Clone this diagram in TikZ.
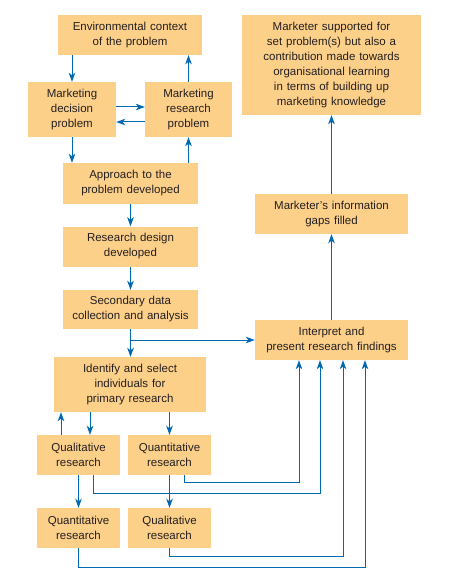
\documentclass[tikz,border=0pt]{standalone}
\usepackage{fontspec}
\setmainfont{Liberation Sans}
\usetikzlibrary{arrows.meta, positioning}
\definecolor{boxfill}{RGB}{253,208,138}
\definecolor{arrowblue}{RGB}{0,103,177}
\definecolor{textgrey}{RGB}{35,31,32}

\begin{document}
\begin{tikzpicture}[x=1pt, y=-1pt, node distance=63pt]
        \tikzstyle{block} = [rectangle, fill=boxfill, text=textgrey, inner sep=0pt,
            text centered, font=\fontsize{11.5}{15}\selectfont]
        \tikzstyle{line} = [draw=arrowblue, line width=1pt, -{Stealth[length=9pt, width=6.5pt, inset=2.5pt]}]

        \useasboundingbox (0,0) rectangle (450,580);

        % left column
        \node [block, text width=144pt, minimum height=40pt] (context) at (130,35) {Environmental context\\of the problem};
        \node [block, text width=88pt, minimum height=55pt] (decision) at (72,109.5) {Marketing\\decision\\problem};
        \node [block, text width=87pt, minimum height=55pt] (problem) at (188.5,109.5) {Marketing\\research\\problem};
        \node [block, text width=135pt, minimum height=41pt] (approach) at (130.5,183.5) {Approach to the\\problem developed};
        \node [block, text width=135pt, minimum height=40pt, below of=approach] (design) {Research design\\developed};
        \node [block, text width=135pt, minimum height=39pt, below of=design] (secondary) {Secondary data\\collection and analysis};
        \node [block, text width=152pt, minimum height=55pt] (identify) at (130,384.5) {Identify and select\\individuals for\\primary research};
        \node [block, text width=83pt, minimum height=40pt] (qualA) at (78.5,455) {Qualitative\\research};
        \node [block, text width=83pt, minimum height=40pt] (quantA) at (169.5,455) {Quantitative\\research};
        \node [block, text width=83pt, minimum height=40pt] (quantB) at (78.5,528) {Quantitative\\research};
        \node [block, text width=83pt, minimum height=40pt] (qualB) at (169.5,528) {Qualitative\\research};

        % right column
        \node [block, text width=179pt, minimum height=100pt] (supported) at (331.5,65) {Marketer supported for\\set problem(s) but also a\\contribution made towards\\organisational learning\\in terms of building up\\marketing knowledge};
        \node [block, text width=153pt, minimum height=40pt] (gaps) at (331.5,214) {Marketer's information\\gaps filled};
        \node [block, text width=153pt, minimum height=40pt] (interpret) at (331.5,340) {Interpret and\\present research findings};

        % problem definition loop
        \path [line] (context.south -| decision) -- (decision.north);
        \path [line] (problem.north) -- (problem.north |- context.south);
        \path [line] ([yshift=2.5pt]decision.east) -- ([yshift=2.5pt]decision.east -| problem.west);
        \path [line] ([yshift=-12.5pt]problem.west) -- ([yshift=-12.5pt]problem.west -| decision.east);
        \path [line] (decision.south) -- (decision.south |- approach.north);
        \path [line] (approach.north -| problem) -- (problem.south);

        % main flow
        \path [line] (approach) -- (design);
        \path [line] (design) -- (secondary);
        \path [line] (secondary.south) -- (secondary.south |- identify.north);
        \path [line] (secondary.south |- interpret.west) -- (interpret.west);
        \path [line] ([xshift=11.5pt]qualA.north |- identify.south) -- ([xshift=11.5pt]qualA.north);
        \path [line] ([xshift=-17.5pt]qualA.north) -- ([xshift=-17.5pt]qualA.north |- identify.south);
        \path [line] (identify.south -| quantA) -- (quantA.north);
        \path [line] (qualA) -- (quantB);
        \path [line] (quantA) -- (qualB);

        % back to findings
        \path [line] ([xshift=14.5pt]quantA.south) -- ++(0,-7pt) -| ([xshift=-32.5pt]interpret.south);
        \path [line] ([xshift=14.5pt]qualA.south) -- ++(0,-18pt) -| ([xshift=-11.5pt]interpret.south);
        \path [line] (qualB.south) -- ++(0,-8pt) -| ([xshift=11.5pt]interpret.south);
        \path [line] (quantB.south) -- ++(0,-19pt) -| ([xshift=33.5pt]interpret.south);
        \path [line] (interpret) -- (gaps);
        \path [line] (gaps) -- (supported);
    \end{tikzpicture}
\end{document}
